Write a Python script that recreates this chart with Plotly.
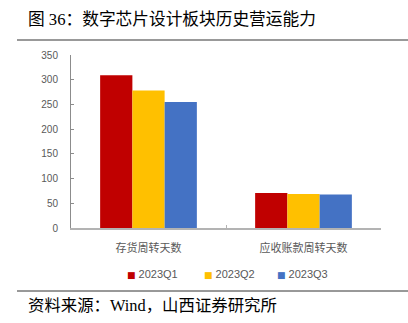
import plotly.graph_objects as go

# Operating-efficiency metrics for the digital chip design sector
categories = ["存货周转天数", "应收账款周转天数"]
series_names = ["2023Q1", "2023Q2", "2023Q3"]
q1_values = [309, 71]
q2_values = [278, 69]
q3_values = [255, 68]
y_ticks = [0, 50, 100, 150, 200, 250, 300, 350]

colors = ["#C00000", "#FFC000", "#4472C4"]
series_values = [q1_values, q2_values, q3_values]

CJK = "Noto Sans CJK SC"
SERIF_CJK = "Liberation Serif, Noto Sans CJK SC"
GRAY_TEXT = "#595959"

# plot-area geometry in pixels
W, H = 408, 323
ML, MR, MT, MB = 71, 27, 55, 95
PW, PH = W - ML - MR, H - MT - MB


def px_x(x):
    return (x - ML) / PW


def px_y(y):
    return (H - MB - y) / PH


fig = go.Figure()

for name, vals, col in zip(series_names, series_values, colors):
    fig.add_trace(go.Bar(
        x=categories, y=vals, name=name,
        marker=dict(color=col, line=dict(width=0)),
        showlegend=False,
    ))

fig.update_layout(
    width=W, height=H,
    margin=dict(l=ML, r=MR, t=MT, b=MB),
    paper_bgcolor="white", plot_bgcolor="white",
    barmode="group", bargap=0.376, bargroupgap=0,
    font=dict(family=CJK, size=11, color=GRAY_TEXT),
    showlegend=False,
    xaxis=dict(
        showline=True, linecolor="#b3b3b3", linewidth=1.5,
        ticks="inside", ticklen=3, tickcolor="#b3b3b3",
        tickson="boundaries",
        showgrid=False, zeroline=False,
        tickfont=dict(family=CJK, size=11, color=GRAY_TEXT),
        ticklabelstandoff=9,
    ),
    yaxis=dict(
        range=[0, 350], tickvals=y_ticks,
        showline=True, linecolor="#8c8c8c", linewidth=1,
        ticks="inside", ticklen=3, tickcolor="#8c8c8c",
        showgrid=False, zeroline=False,
        tickfont=dict(family="Liberation Sans", size=10, color=GRAY_TEXT),
        ticklabelstandoff=10,
    ),
)

# Legend row: coloured square key followed by the series name
legend_left = [125, 201.5, 275]
for name, col, lx in zip(series_names, colors, legend_left):
    fig.add_annotation(
        text=f'<span style="color:{col};font-family:DejaVu Sans;font-size:9px">■</span> {name}',
        xref="paper", yref="paper", x=px_x(lx), y=px_y(274),
        xanchor="left", yanchor="middle", showarrow=False,
        font=dict(family="Liberation Sans", size=11, color=GRAY_TEXT),
    )

# Header title and rule
fig.add_annotation(
    text="图 36：数字芯片设计板块历史营运能力",
    xref="paper", yref="paper", x=px_x(26), y=px_y(19),
    xanchor="left", yanchor="middle", showarrow=False,
    font=dict(family=SERIF_CJK, size=16.7, color="#000000"),
)
fig.add_shape(type="line", xref="paper", yref="paper",
              x0=px_x(17), x1=px_x(408), y0=px_y(40), y1=px_y(40),
              line=dict(color="#999999", width=2))

# Footer rule and source note
fig.add_shape(type="line", xref="paper", yref="paper",
              x0=px_x(17), x1=px_x(408), y0=px_y(291), y1=px_y(291),
              line=dict(color="#333333", width=1))
fig.add_annotation(
    text="资料来源：Wind，山西证券研究所",
    xref="paper", yref="paper", x=px_x(26), y=px_y(305),
    xanchor="left", yanchor="middle", showarrow=False,
    font=dict(family=SERIF_CJK, size=16.4, color="#000000"),
)

fig.write_html("out.html")
